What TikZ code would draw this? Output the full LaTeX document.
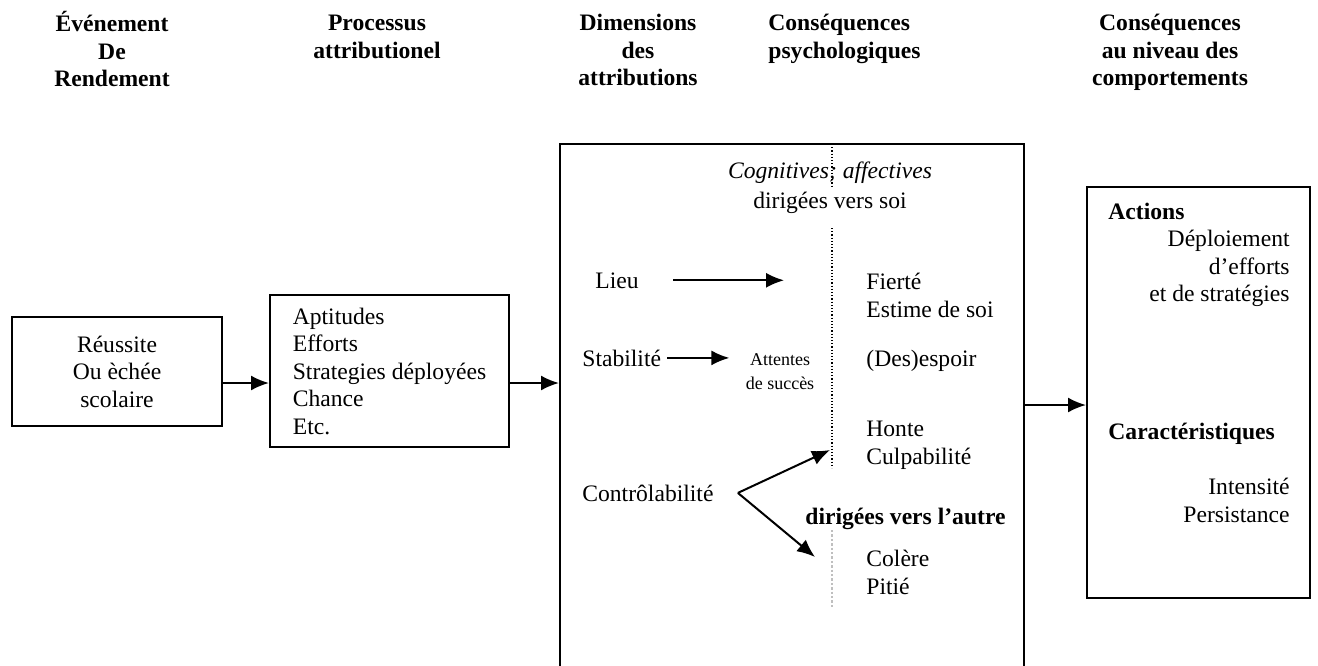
\documentclass[tikz,border=0pt]{standalone}
\usepackage{fontspec}
\setmainfont{Liberation Serif}
\usetikzlibrary{arrows.meta}

\begin{document}
\begin{tikzpicture}[x=0.5pt, y=-0.5pt, >={Latex[length=9pt,width=7.5pt]},
	font=\fontsize{11.8}{13.75}\selectfont,
	titre/.style={font=\fontsize{11.8}{13.75}\selectfont\bfseries, align=center, anchor=north, inner sep=0pt},
	texte/.style={inner sep=0pt},
	boite/.style={draw, line width=1pt, inner sep=0pt},
	fleche/.style={->, line width=1pt},
	pointille/.style={densely dotted, line width=0.6pt}]
	\useasboundingbox (0,0) rectangle (1318,665);
	% titres des colonnes
	\node[titre] (tEvt) at (112,11) {\strut Événement\\De\\Rendement};
	\node[titre] (tProc) at (377,11) {\strut Processus\\attributionel};
	\node[titre] (tDim) at (638,11) {\strut Dimensions\\des\\attributions};
	\node[titre, anchor=north west, align=left] (tPsy) at (768,11) {\strut Conséquences\\psychologiques};
	\node[titre] (tComp) at (1170,11) {\strut Conséquences\\au niveau des\\comportements};
	% boites
	\node[boite, minimum width=105pt, minimum height=54.5pt, align=center] (evt) at (117,371.5) {Réussite\\Ou èchée\\scolaire};
	\node[boite, minimum width=119.5pt, minimum height=76pt, align=left] (proc) at (389.5,371) {Aptitudes\\Efforts\\Strategies déployées\\Chance\\Etc.};
	\node[boite, minimum width=232pt, minimum height=263pt] (dims) at (792,407) {};
	\node[boite, minimum width=111.5pt, minimum height=205.5pt] (comp) at (1198.5,392.5) {};
	\coordinate (y1) at (0,383);
	\coordinate (y2) at (0,405);
	\draw[fleche] (evt.east |- y1) -- (proc.west |- y1);
	\draw[fleche] (proc.east |- y1) -- (dims.west |- y1);
	\draw[fleche] (dims.east |- y2) -- (comp.west |- y2);
	% dimensions et consequences psychologiques
	\node[texte, anchor=north, align=center] (cogn) at (830,159) {\strut\textit{Cognitives; affectives}\\[1.25pt]dirigées vers soi};
	\node[texte, anchor=base west] (lieu) at (595,288) {Lieu};
	\node[texte, anchor=base west] (stab) at (582,366) {Stabilité};
	\node[texte, anchor=north, align=center, font=\fontsize{9}{12}\selectfont] (att) at (780,348) {\strut Attentes\\de succès};
	\node[texte, anchor=base west] (control) at (582,501) {Contrôlabilité};
	\node[texte, anchor=north west, align=left] (fierte) at (866,270) {\strut Fierté\\Estime de soi};
	\node[texte, anchor=base west] (espoir) at (866,366) {(Des)espoir};
	\node[texte, anchor=north west, align=left] (honte) at (866,417) {\strut Honte\\Culpabilité};
	\node[texte, anchor=base west, font=\fontsize{11.8}{13.75}\selectfont\bfseries] (autre) at (805,524) {dirigées vers l’autre};
	\node[texte, anchor=north west, align=left] (colere) at (866,547) {\strut Colère\\Pitié};
	\coordinate (versSoi) at (830,450);
	\coordinate (versAutre) at (815,557);
	\draw[fleche] ([xshift=17pt]lieu.east) -- ++(55.5pt,0);
	\draw[fleche] ([xshift=3pt]stab.east) -- ([xshift=-8pt]stab.east -| att.west);
	\draw[fleche] ([xshift=12pt]control.east) -- (versSoi);
	\draw[fleche] ([xshift=12pt]control.east) -- (versAutre);
	\draw[pointille] (832,144) -- (832,186);
	\draw[pointille] (832,228) -- (832,468);
	\draw[pointille, gray!50, line width=1.2pt] (832,530) -- (832,608);
	% consequences au niveau des comportements
	\node[texte, anchor=base west, font=\fontsize{11.8}{13.75}\selectfont\bfseries] (actions) at (1108,219) {Actions};
	\node[texte, anchor=north east, align=right] (deploi) at (1290,227) {\strut Déploiement\\d’efforts\\et de stratégies};
	\node[texte, anchor=base west, font=\fontsize{11.8}{13.75}\selectfont\bfseries] (caract) at (1108,439) {Caractéristiques};
	\node[texte, anchor=north east, align=right] (intens) at (1290,475) {\strut Intensité\\Persistance};
\end{tikzpicture}
\end{document}
